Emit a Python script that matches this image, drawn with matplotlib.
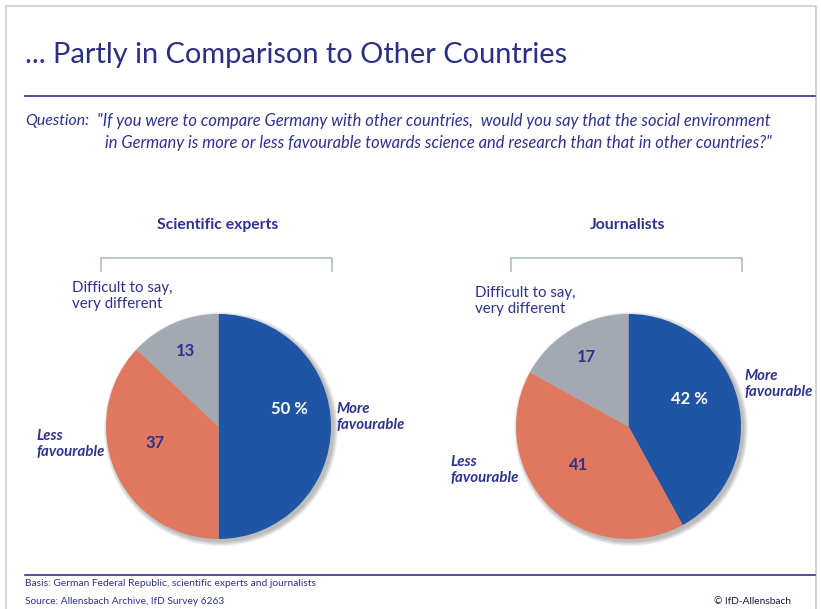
import matplotlib.pyplot as plt
from matplotlib.patches import Circle, Rectangle
import numpy as np

# data
groups = ['Scientific experts', 'Journalists']
categories = ['More\nfavourable', 'Less\nfavourable', 'Difficult to say,\nvery different']
experts = [50, 37, 13]
journalists = [42, 41, 17]
value_labels = [['50 %', '37', '13'], ['42 %', '41', '17']]

colors = ['#1F55A4', '#E07860', '#A2A9B3']
navy = '#2E3192'
W, H = 821, 609
FONT = 'Lato'


def Y(py):
    # pixel row (from top) -> data y
    return H - py


fig = plt.figure(figsize=(W / 100, H / 100), dpi=100)
ax = fig.add_axes([0, 0, 1, 1])

# layout per pie (pixel coords): center, value label offsets, category label anchors
pie_layout = [
    dict(cx=218.5, cy=426.5,
         vals=[(71, 17), (-63, -16), (-33, 75)],
         cats=[(336, 417), (36, 444), (72, 296)]),
    dict(cx=628.5, cy=426.5,
         vals=[(61, 28), (-50, -38), (-42, 70)],
         cats=[(744, 384), (450, 470), (475, 301)]),
]
radius = 112.5

for gi, (name, vals) in enumerate(zip(groups, [experts, journalists])):
    lay = pie_layout[gi]
    cx, cy = lay['cx'], Y(lay['cy'])

    # soft shadow
    for k in range(7):
        ax.add_patch(Circle((cx + 2.5, cy - 2.5), radius + 4.5 - k * 0.7,
                            color='#444444', alpha=0.06, lw=0, zorder=1))

    ax.pie(vals, colors=colors, startangle=90, counterclock=False,
           center=(cx, cy), radius=radius,
           wedgeprops=dict(linewidth=0))
    for w in ax.patches[-3:]:
        w.set_zorder(2)

    for i, (dx, dy) in enumerate(lay['vals']):
        ax.text(cx + dx, cy + dy, value_labels[gi][i], ha='center', va='center',
                fontsize=12, fontweight='bold', family=FONT,
                color='white' if i == 0 else navy, zorder=5)

    for i, (px, py) in enumerate(lay['cats']):
        if i < 2:
            ax.text(px, Y(py), categories[i], ha='left', va='center', fontsize=10.8,
                    fontweight='bold', fontstyle='italic', family=FONT,
                    color=navy, linespacing=1.1)
        else:
            ax.text(px, Y(py), categories[i], ha='left', va='center', fontsize=10.8,
                    family=FONT, color=navy, linespacing=1.1)

    # group title and bracket
    ax.text(cx - 1, Y(225), name, ha='center', va='center', fontsize=11.3,
            fontweight='bold', family=FONT, color=navy)
    bx0, bx1 = cx - 117.5, cx + 113.5
    ax.plot([bx0, bx0, bx1, bx1], [Y(271), Y(258), Y(258), Y(271)],
            color='#A9B4CB', lw=1.1, solid_joinstyle='miter')

# title, rules, question
ax.text(25, Y(55), '... Partly in Comparison to Other Countries', ha='left', va='center',
        fontsize=20.9, family=FONT, color='#2B2E85')
ax.plot([25, 815], [Y(96), Y(96)], color='#2E3192', lw=1.2)
ax.text(25, Y(121), 'Question:', ha='left', va='center', fontsize=11.4,
        fontstyle='italic', family=FONT, color=navy)
ax.text(97, Y(121), '"If you were to compare Germany with other countries,  would you say that the social environment',
        ha='left', va='center', fontsize=11.9, fontstyle='italic', family=FONT, color=navy)
ax.text(105, Y(143), 'in Germany is more or less favourable towards science and research than that in other countries?"',
        ha='left', va='center', fontsize=11.9, fontstyle='italic', family=FONT, color=navy)

# footer
ax.plot([25, 815], [Y(575), Y(575)], color='#2E3192', lw=1.2)
ax.text(25, Y(584), 'Basis: German Federal Republic, scientific experts and journalists',
        ha='left', va='center', fontsize=7.4, family=FONT, color=navy)
ax.text(25, Y(601), 'Source: Allensbach Archive, IfD Survey 6263',
        ha='left', va='center', fontsize=7.3, family=FONT, color=navy)
ax.text(791, Y(601), '© IfD-Allensbach', ha='right', va='center', fontsize=7.3,
        family=FONT, color='#1a1a40')

# frame
ax.add_patch(Rectangle((6, -5), 810, Y(6) + 5, fill=False, ec='#CCCCCC', lw=1.2))

ax.set_xlim(0, W)
ax.set_ylim(0, H)
ax.set_aspect('auto')
ax.axis('off')

fig.savefig('out.png', dpi=100, facecolor='white')
